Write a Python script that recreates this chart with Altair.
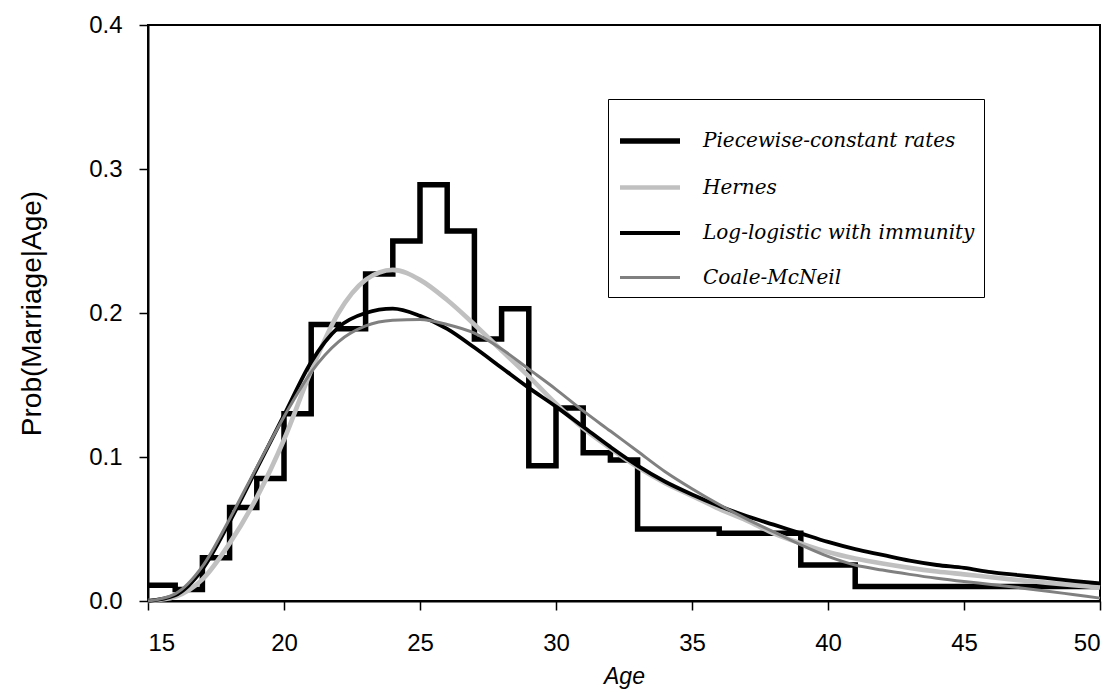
import altair as alt
import pandas as pd

ages = list(range(15, 51))

# Piecewise-constant rates: value for [age, age+1); last value repeated at 50
piecewise = [0.011, 0.008, 0.030, 0.065, 0.085, 0.130, 0.192, 0.189, 0.227, 0.250,
             0.289, 0.257, 0.182, 0.203, 0.094, 0.134, 0.103, 0.098, 0.050, 0.050,
             0.050, 0.047, 0.047, 0.047, 0.025, 0.025, 0.010, 0.010, 0.010, 0.010,
             0.010, 0.010, 0.010, 0.010, 0.010, 0.010]

hernes = [0.000, 0.003, 0.015, 0.040, 0.072, 0.112, 0.160, 0.200, 0.223, 0.230,
          0.223, 0.209, 0.192, 0.174, 0.156, 0.137, 0.120, 0.106, 0.093, 0.082,
          0.073, 0.064, 0.056, 0.047, 0.040, 0.034, 0.0295, 0.026, 0.023, 0.0205,
          0.0185, 0.0165, 0.0145, 0.0128, 0.011, 0.0095]

loglogistic = [0.000, 0.004, 0.022, 0.055, 0.092, 0.129, 0.166, 0.190, 0.200, 0.203,
               0.198, 0.189, 0.176, 0.162, 0.148, 0.135, 0.121, 0.107, 0.094, 0.083,
               0.074, 0.066, 0.059, 0.053, 0.047, 0.041, 0.036, 0.032, 0.028, 0.025,
               0.023, 0.020, 0.018, 0.016, 0.014, 0.0123]

coale = [0.000, 0.005, 0.024, 0.057, 0.093, 0.128, 0.159, 0.180, 0.191, 0.195,
         0.1955, 0.192, 0.186, 0.175, 0.161, 0.147, 0.132, 0.118, 0.104, 0.090,
         0.078, 0.067, 0.057, 0.048, 0.039, 0.031, 0.025, 0.0215, 0.0185, 0.0158,
         0.0135, 0.0115, 0.0093, 0.007, 0.0045, 0.002]

series_names = ["Piecewise-constant rates", "Hernes", "Log-logistic with immunity", "Coale-McNeil"]
series_colors = ["#000000", "#c0c0c0", "#000000", "#808080"]
series_widths = [5.5, 3, 1.5, 3]

step_df = pd.DataFrame({"age": ages, "p": piecewise, "series": series_names[0]})
curve_rows = []
for name, vals in zip(series_names[1:], [hernes, loglogistic, coale]):
    for a, v in zip(ages, vals):
        curve_rows.append({"age": a, "p": v, "series": name})
curve_df = pd.DataFrame(curve_rows)

x_enc = alt.X("age:Q", scale=alt.Scale(domain=[15, 50], nice=False, zero=False),
              axis=alt.Axis(title="Age", values=list(range(15, 51, 5)), format="d",
                            titleFontStyle="italic", titleFontWeight="normal",
                            titleFont="Liberation Sans", titleFontSize=23,
                            titlePadding=10,
                            labelFont="Liberation Sans", labelFontSize=24,
                            labelPadding=21, tickSize=9, tickColor="black",
                            domainColor="black", domainWidth=2, tickWidth=1.5,
                            labelColor="black", titleColor="black", grid=False))
y_enc = alt.Y("p:Q", scale=alt.Scale(domain=[0, 0.4], nice=False),
              axis=alt.Axis(title="Prob(Marriage|Age)", values=[0, 0.1, 0.2, 0.3, 0.4],
                            format=".1f", titleFont="Liberation Sans", titleFontSize=28,
                            titleFontWeight="normal", titlePadding=42,
                            labelFont="Liberation Sans", labelFontSize=24,
                            labelPadding=17, tickSize=9, tickColor="black",
                            domainColor="black", domainWidth=2, tickWidth=1.5,
                            labelColor="black", titleColor="black", grid=False))

color_enc = alt.Color("series:N",
                      scale=alt.Scale(domain=series_names, range=series_colors),
                      legend=alt.Legend(orient="none", legendX=460, legendY=74, title=None,
                                        symbolType="stroke", symbolSize=3600,
                                        labelFont="DejaVu Serif", labelFontStyle="italic",
                                        labelFontSize=20, labelColor="black",
                                        labelOffset=20, rowPadding=3,
                                        strokeColor="black", fillColor="white",
                                        padding=9, labelLimit=400))
width_enc = alt.StrokeWidth("series:N",
                            scale=alt.Scale(domain=series_names, range=series_widths),
                            legend=None)

step_layer = alt.Chart(step_df).mark_line(interpolate="step-after", strokeJoin="miter").encode(
    x=x_enc, y=y_enc, color=color_enc, strokeWidth=width_enc,
    detail="series:N")

curve_layer = alt.Chart(curve_df).mark_line(interpolate="monotone").encode(
    x=x_enc, y=y_enc, color=color_enc, strokeWidth=width_enc,
    detail="series:N")

chart = alt.layer(step_layer, curve_layer).properties(
    width=952, height=576,
    autosize=alt.AutoSizeParams(type="none"),
    padding={"left": 148, "top": 25, "right": 19, "bottom": 92},
    background="white",
).configure_view(stroke="black", strokeWidth=2)

chart.save("out.html", embed_options={"renderer": "svg", "actions": False})
